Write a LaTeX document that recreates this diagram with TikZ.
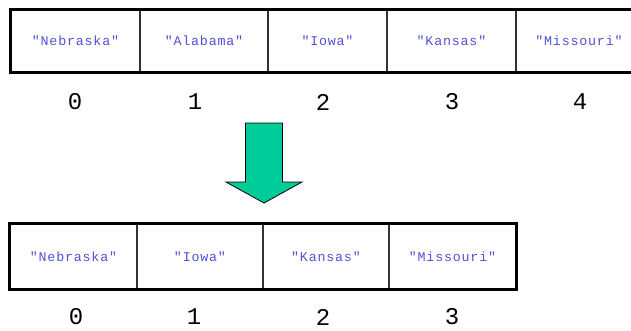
\documentclass[tikz,border=0pt]{standalone}
\usepackage{fontspec}
\setmonofont{Liberation Mono}
\usetikzlibrary{positioning}
\definecolor{strblue}{RGB}{80,80,215}
\definecolor{arrowgreen}{RGB}{0,204,153}

\begin{document}
\begin{tikzpicture}[x=0.75pt, y=-0.75pt,
  cell/.style={draw=black!80, line width=0.8pt, inner sep=0pt,
    font=\ttfamily\fontsize{10}{12}\selectfont\addfontfeature{LetterSpace=6},
    text=strblue},
  index/.style={font=\ttfamily\fontsize{18}{20}\selectfont},
  frame/.style={line width=2.25pt}]
  \useasboundingbox (0,0) rectangle (631,330);
  % array before removal
  \foreach \l/\r/\word/\i/\ix in {11/140/Nebraska/0/75, 140/268/Alabama/1/195,
      268/387/Iowa/2/323, 387/516/Kansas/3/452, 516/642/Missouri/4/580}{
    \node[cell, minimum width={(\r-\l)*0.75pt}, minimum height=62*0.75pt]
      (top\i) at ({(\l+\r)/2},41) {"\word"};
    \node[index] (topidx\i) at (\ix,102) {\i};
  }
  \draw[frame] (top0.north west) rectangle (top4.south east);
  % the big arrow
  \draw[fill=arrowgreen, line width=0.6pt, line join=miter]
    (245.5,123) -- (282.5,123) -- (282.5,182) -- (302,182) -- (264,203)
    -- (226,182) -- (245.5,182) -- cycle;
  % array after removal
  \foreach \l/\r/\word/\i/\ix in {10/137/Nebraska/0/76, 137/263/Iowa/1/194,
      263/389/Kansas/2/323, 389/516/Missouri/3/452}{
    \node[cell, minimum width={(\r-\l)*0.75pt}, minimum height=65*0.75pt]
      (bot\i) at ({(\l+\r)/2},256.5) {"\word"};
    \node[index] (botidx\i) at (\ix,317) {\i};
  }
  \draw[frame] (bot0.north west) rectangle (bot3.south east);
\end{tikzpicture}
\end{document}
